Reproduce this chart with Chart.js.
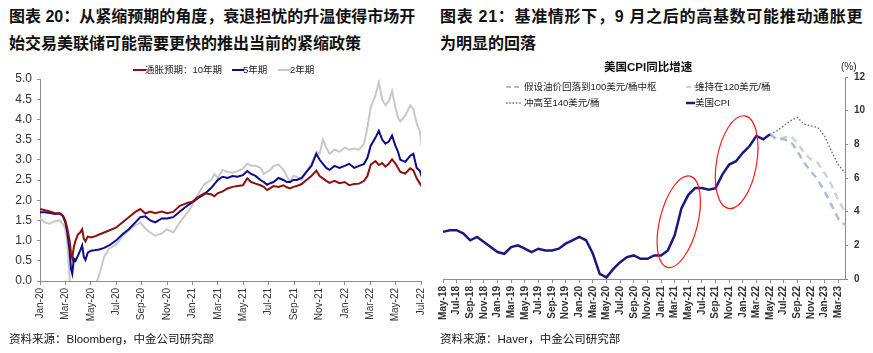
<!DOCTYPE html>
<html>
<head>
<meta charset="utf-8">
<script src="https://cdn.jsdelivr.net/npm/chart.js@4.4.1/dist/chart.umd.min.js"></script>
<style>
body{margin:0;width:873px;height:353px;background:#fff;position:relative;overflow:hidden;
  font-family:"Liberation Sans",Arial,"Noto Sans CJK SC",sans-serif;color:#111}
.title{position:absolute;font-size:16px;font-weight:bold;line-height:27px;white-space:nowrap}
.src{position:absolute;top:330px;font-size:11.5px;white-space:nowrap}
canvas{position:absolute}
.lg{position:absolute;font-size:9.5px;white-space:nowrap;line-height:14px;color:#222}
svg{position:absolute;overflow:visible}
</style>
</head>
<body>
<div class="title" style="left:9px;top:3px">图表 20：从紧缩预期的角度，衰退担忧的升温使得市场开</div>
<div class="title" style="left:9px;top:30px">始交易美联储可能需要更快的推出当前的紧缩政策</div>
<div class="title" style="left:440px;top:3px;letter-spacing:0.7px">图表 21：基准情形下，9 月之后的高基数可能推动通胀更</div>
<div class="title" style="left:440px;top:30px">为明显的回落</div>

<canvas id="c1" width="436" height="262" style="left:0;top:60px"></canvas>
<canvas id="c2" width="437" height="262" style="left:436px;top:60px"></canvas>

<!-- legend lines -->
<svg style="left:0;top:0" width="873" height="353">
  <line x1="133" y1="70" x2="146" y2="70" stroke="#8c1010" stroke-width="2"/>
  <line x1="232" y1="70" x2="244" y2="70" stroke="#0c0c8a" stroke-width="2"/>
  <line x1="278" y1="70" x2="291" y2="70" stroke="#c8c8c8" stroke-width="2"/>
  <line x1="506" y1="87" x2="522" y2="87" stroke="#a9bde0" stroke-width="2" stroke-dasharray="5,3"/>
  <line x1="686" y1="87" x2="695" y2="87" stroke="#d2d2d2" stroke-width="2" stroke-dasharray="5,3"/>
  <line x1="506" y1="103" x2="522" y2="103" stroke="#666" stroke-width="1.3" stroke-dasharray="1.5,1.8"/>
  <line x1="686" y1="103" x2="695" y2="103" stroke="#1a1a7c" stroke-width="2.5"/>
</svg>
<div class="lg" style="left:145px;top:63px">通胀预期：10年期</div>
<div class="lg" style="left:243px;top:63px">5年期</div>
<div class="lg" style="left:290px;top:63px">2年期</div>

<div class="lg" style="left:604px;top:60px;font-size:11.5px;font-weight:bold;color:#111">美国CPI同比增速</div>
<div class="lg" style="left:841px;top:60px;font-size:10px">(%)</div>
<div class="lg" style="left:524px;top:80px">假设油价回落到100美元/桶中枢</div>
<div class="lg" style="left:695px;top:80px">维持在120美元/桶</div>
<div class="lg" style="left:524px;top:96px">冲高至140美元/桶</div>
<div class="lg" style="left:695px;top:96px">美国CPI</div>

<div class="src" style="left:9px">资料来源：Bloomberg，中金公司研究部</div>
<div class="src" style="left:440px">资料来源：Haver，中金公司研究部</div>

<script>
// ---- 图表20：通胀预期（盈亏平衡通胀率），x = 自2020年1月起的月数
const months = [0, 0.39, 0.78, 1.17, 1.55, 1.81, 1.99, 2.15, 2.33, 2.44, 2.54, 2.67, 2.8, 2.98, 3.16, 3.32, 3.45, 3.58, 3.76, 4.02, 4.27, 4.66, 5.05, 5.44, 5.98, 6.48, 6.99, 7.51, 7.9, 8.29, 8.68, 9.07, 9.59, 10.0, 10.49, 11.01, 11.66, 12.0, 12.44, 12.95, 13.47, 13.73, 13.99, 14.38, 14.77, 15.16, 15.54, 15.98, 16.32, 16.63, 16.97, 17.36, 17.62, 17.88, 18.13, 18.39, 18.78, 19.17, 19.43, 19.69, 19.95, 20.21, 20.6, 20.98, 21.37, 21.76, 22.02, 22.28, 22.54, 22.8, 23.19, 23.58, 23.99, 24.35, 24.74, 25.13, 25.52, 25.78, 26.04, 26.42, 26.68, 26.94, 27.2, 27.46, 27.72, 27.98, 28.19, 28.37, 28.76, 29.15, 29.4, 29.66, 29.92, 30.13]
const tenYr = [1.78, 1.75, 1.72, 1.68, 1.68, 1.62, 1.5, 1.3, 1.0, 0.7, 0.57, 0.85, 1.0, 1.15, 1.2, 1.28, 1.05, 0.98, 1.1, 1.08, 1.1, 1.15, 1.2, 1.25, 1.32, 1.45, 1.58, 1.71, 1.78, 1.67, 1.72, 1.68, 1.72, 1.68, 1.71, 1.86, 1.94, 1.96, 2.08, 2.17, 2.15, 2.1, 2.17, 2.22, 2.29, 2.33, 2.35, 2.37, 2.54, 2.45, 2.41, 2.37, 2.33, 2.25, 2.3, 2.35, 2.33, 2.37, 2.32, 2.29, 2.33, 2.35, 2.4, 2.5, 2.6, 2.73, 2.6, 2.54, 2.48, 2.43, 2.48, 2.42, 2.45, 2.37, 2.4, 2.41, 2.48, 2.6, 2.88, 2.97, 2.87, 2.92, 2.83, 2.9, 3.01, 2.91, 2.8, 2.7, 2.66, 2.79, 2.74, 2.54, 2.41, 2.31]
const fiveYr = [1.7, 1.7, 1.68, 1.66, 1.67, 1.6, 1.45, 1.2, 0.75, 0.3, 0.18, 0.55, 0.5, 0.62, 0.75, 0.88, 0.6, 0.52, 0.7, 0.75, 0.76, 0.78, 0.82, 0.88, 1.0, 1.15, 1.28, 1.45, 1.58, 1.6, 1.5, 1.45, 1.55, 1.55, 1.58, 1.72, 1.88, 1.95, 2.05, 2.15, 2.3, 2.4, 2.5, 2.58, 2.55, 2.6, 2.58, 2.62, 2.72, 2.65, 2.6, 2.5, 2.45, 2.38, 2.42, 2.45, 2.55, 2.5, 2.45, 2.45, 2.5, 2.5, 2.55, 2.7, 2.85, 3.15, 3.0, 2.9, 2.8, 2.75, 2.85, 2.8, 2.85, 2.9, 2.8, 2.85, 2.9, 3.05, 3.35, 3.55, 3.72, 3.5, 3.4, 3.45, 3.6, 3.35, 3.2, 3.0, 2.95, 3.1, 3.15, 2.8, 2.72, 2.52]
const twoYr = [1.55, 1.45, 1.42, 1.48, 1.5, 1.4, 1.3, 0.9, 0.1, -0.8, -1.5, -1.6, -1.4, -1.2, -1.0, -0.9, -0.8, -0.7, -0.6, -0.4, -0.2, 0.15, 0.6, 0.8, 0.9, 1.1, 1.25, 1.38, 1.45, 1.3, 1.2, 1.12, 1.18, 1.28, 1.2, 1.45, 1.72, 1.88, 2.15, 2.4, 2.5, 2.65, 2.55, 2.75, 2.7, 2.68, 2.72, 2.78, 2.9, 2.85, 2.85, 2.8, 2.65, 2.7, 2.75, 2.85, 2.88, 2.75, 2.6, 2.45, 2.6, 2.58, 2.5, 2.7, 2.9, 3.2, 3.15, 3.5, 3.3, 3.15, 3.25, 3.2, 3.3, 3.25, 3.28, 3.25, 3.4, 3.8, 4.3, 4.6, 4.92, 4.5, 4.35, 4.45, 4.7, 4.3, 4.05, 3.95, 4.1, 4.35, 4.25, 3.9, 3.7, 3.15]
const ticks20 = ['Jan-20', 'Mar-20', 'May-20', 'Jul-20', 'Sep-20', 'Nov-20', 'Jan-21', 'Mar-21', 'May-21', 'Jul-21', 'Sep-21', 'Nov-21', 'Jan-22', 'Mar-22', 'May-22', 'Jul-22']

// ---- 图表21：美国CPI同比（%），2018年5月至2023年4月
const cpiMonths = ['May-18', 'Jun-18', 'Jul-18', 'Aug-18', 'Sep-18', 'Oct-18', 'Nov-18', 'Dec-18',
  'Jan-19', 'Feb-19', 'Mar-19', 'Apr-19', 'May-19', 'Jun-19', 'Jul-19', 'Aug-19', 'Sep-19', 'Oct-19', 'Nov-19', 'Dec-19',
  'Jan-20', 'Feb-20', 'Mar-20', 'Apr-20', 'May-20', 'Jun-20', 'Jul-20', 'Aug-20', 'Sep-20', 'Oct-20', 'Nov-20', 'Dec-20',
  'Jan-21', 'Feb-21', 'Mar-21', 'Apr-21', 'May-21', 'Jun-21', 'Jul-21', 'Aug-21', 'Sep-21', 'Oct-21', 'Nov-21', 'Dec-21',
  'Jan-22', 'Feb-22', 'Mar-22', 'Apr-22', 'May-22', 'Jun-22', 'Jul-22', 'Aug-22', 'Sep-22', 'Oct-22', 'Nov-22', 'Dec-22',
  'Jan-23', 'Feb-23', 'Mar-23', 'Apr-23']
const usCpi = [2.8, 2.9, 2.9, 2.7, 2.3, 2.5, 2.2, 1.9, 1.6, 1.5, 1.9, 2.0, 1.8, 1.6, 1.8, 1.7, 1.7, 1.8, 2.1, 2.3,
  2.5, 2.3, 1.5, 0.3, 0.1, 0.6, 1.0, 1.3, 1.4, 1.2, 1.2, 1.4, 1.4, 1.7, 2.6, 4.2, 5.0, 5.4, 5.4, 5.3, 5.4, 6.2, 6.8, 7.0,
  7.5, 7.9, 8.5, 8.3, 8.6]
// 情景预测（自2022年5月起）
const oil100 = [8.6, 8.3, 8.3, 8.2, 7.6, 6.9, 6.4, 5.9, 5.2, 4.4, 3.6, 3.2]
const oil120 = [8.6, 8.3, 8.4, 8.5, 8.1, 7.5, 7.1, 6.9, 6.3, 5.6, 4.7, 4.0]
const oil140 = [8.6, 8.8, 9.1, 9.4, 9.6, 9.2, 9.1, 9.0, 8.5, 7.6, 6.8, 6.3]

const pad = (arr, n) => Array(n).fill(null).concat(arr)

// 红圈标注（数据坐标中心，像素半轴）
const rings = [
  {at: 34.6, val: 3.4, rx: 19, ry: 47, deg: 14},
  {at: 43.1, val: 6.94, rx: 20, ry: 47, deg: 10}
]

const ringPlugin = {
  id: 'rings',
  afterDatasetsDraw(chart) {
    const ctx = chart.ctx
    const x = chart.scales.x
    const y = chart.scales.y
    ctx.save()
    ctx.strokeStyle = '#ff1a1a'
    ctx.lineWidth = 1.2
    rings.forEach(r => {
      ctx.beginPath()
      ctx.ellipse(x.getPixelForValue(r.at), y.getPixelForValue(r.val), r.rx, r.ry, r.deg * Math.PI / 180, 0, Math.PI * 2)
      ctx.stroke()
    })
    ctx.restore()
  }
}

Chart.defaults.font.family = '"Liberation Sans", Arial, "Noto Sans CJK SC", sans-serif'
Chart.defaults.color = '#333'

let chart20 = new Chart(document.getElementById('c1').getContext('2d'), {
  type: 'line',
  data: {
    datasets: [
      {label: '通胀预期：10年期', data: months.map((m, i) => ({x: m, y: tenYr[i]})), borderColor: '#8c1010', borderWidth: 2},
      {label: '5年期', data: months.map((m, i) => ({x: m, y: fiveYr[i]})), borderColor: '#0c0c8a', borderWidth: 2},
      {label: '2年期', data: months.map((m, i) => ({x: m, y: twoYr[i]})), borderColor: '#c8c8c8', borderWidth: 2}
    ]
  },
  options: {
    responsive: false,
    animation: false,
    devicePixelRatio: 1,
    elements: {point: {radius: 0}, line: {tension: 0}},
    layout: {padding: {top: 19, right: 9, left: 0, bottom: 0}},
    plugins: {legend: {display: false}, tooltip: {enabled: false}},
    scales: {
      x: {
        type: 'linear', min: 0, max: 30,
        afterBuildTicks: axis => { axis.ticks = ticks20.map((t, i) => ({value: i * 2})) },
        afterFit: s => { s.height = 41 },
        ticks: {callback: v => ticks20[v / 2], maxRotation: 90, minRotation: 90, font: {size: 10}, padding: 3},
        grid: {drawOnChartArea: false, tickLength: 4, color: '#8c8c8c'},
        border: {color: '#8c8c8c'}
      },
      y: {
        min: 0, max: 5,
        afterFit: s => { s.width = 40 },
        ticks: {stepSize: 0.5, callback: v => v.toFixed(1), font: {size: 12}, padding: 5},
        grid: {drawOnChartArea: false, tickLength: 3, color: '#8c8c8c'},
        border: {color: '#8c8c8c'}
      }
    }
  }
})

let chart21 = new Chart(document.getElementById('c2').getContext('2d'), {
  type: 'line',
  data: {
    labels: cpiMonths,
    datasets: [
      {label: '美国CPI', data: usCpi, borderColor: '#1a1a7c', borderWidth: 2.5},
      {label: '假设油价回落到100美元/桶中枢', data: pad(oil100, 48), borderColor: '#a9bde0', borderWidth: 2.5, borderDash: [7, 5]},
      {label: '维持在120美元/桶', data: pad(oil120, 48), borderColor: '#d2d2d2', borderWidth: 2.5, borderDash: [7, 5]},
      {label: '冲高至140美元/桶', data: pad(oil140, 48), borderColor: '#666', borderWidth: 1.3, borderDash: [1.5, 2]}
    ]
  },
  plugins: [ringPlugin],
  options: {
    responsive: false,
    animation: false,
    devicePixelRatio: 1,
    elements: {point: {radius: 0}, line: {tension: 0}},
    layout: {padding: {top: 17, left: 7, right: 0, bottom: 0}},
    plugins: {legend: {display: false}, tooltip: {enabled: false}},
    scales: {
      x: {
        offset: false,
        afterFit: s => { s.height = 43 },
        ticks: {autoSkip: false, callback: (v, i) => i % 2 === 0 ? cpiMonths[i] : null,
          maxRotation: 90, minRotation: 90, font: {size: 10, weight: 'bold'}, padding: 3},
        grid: {drawOnChartArea: false, tickLength: 4, color: '#8c8c8c'},
        border: {color: '#8c8c8c'}
      },
      y: {
        position: 'right', min: 0, max: 12,
        afterFit: s => { s.width = 28 },
        ticks: {stepSize: 2, font: {size: 10, weight: 'bold'}, padding: 6},
        grid: {drawOnChartArea: false, tickLength: 3, color: '#8c8c8c'},
        border: {color: '#8c8c8c'}
      }
    }
  }
})
</script>
</body>
</html>
